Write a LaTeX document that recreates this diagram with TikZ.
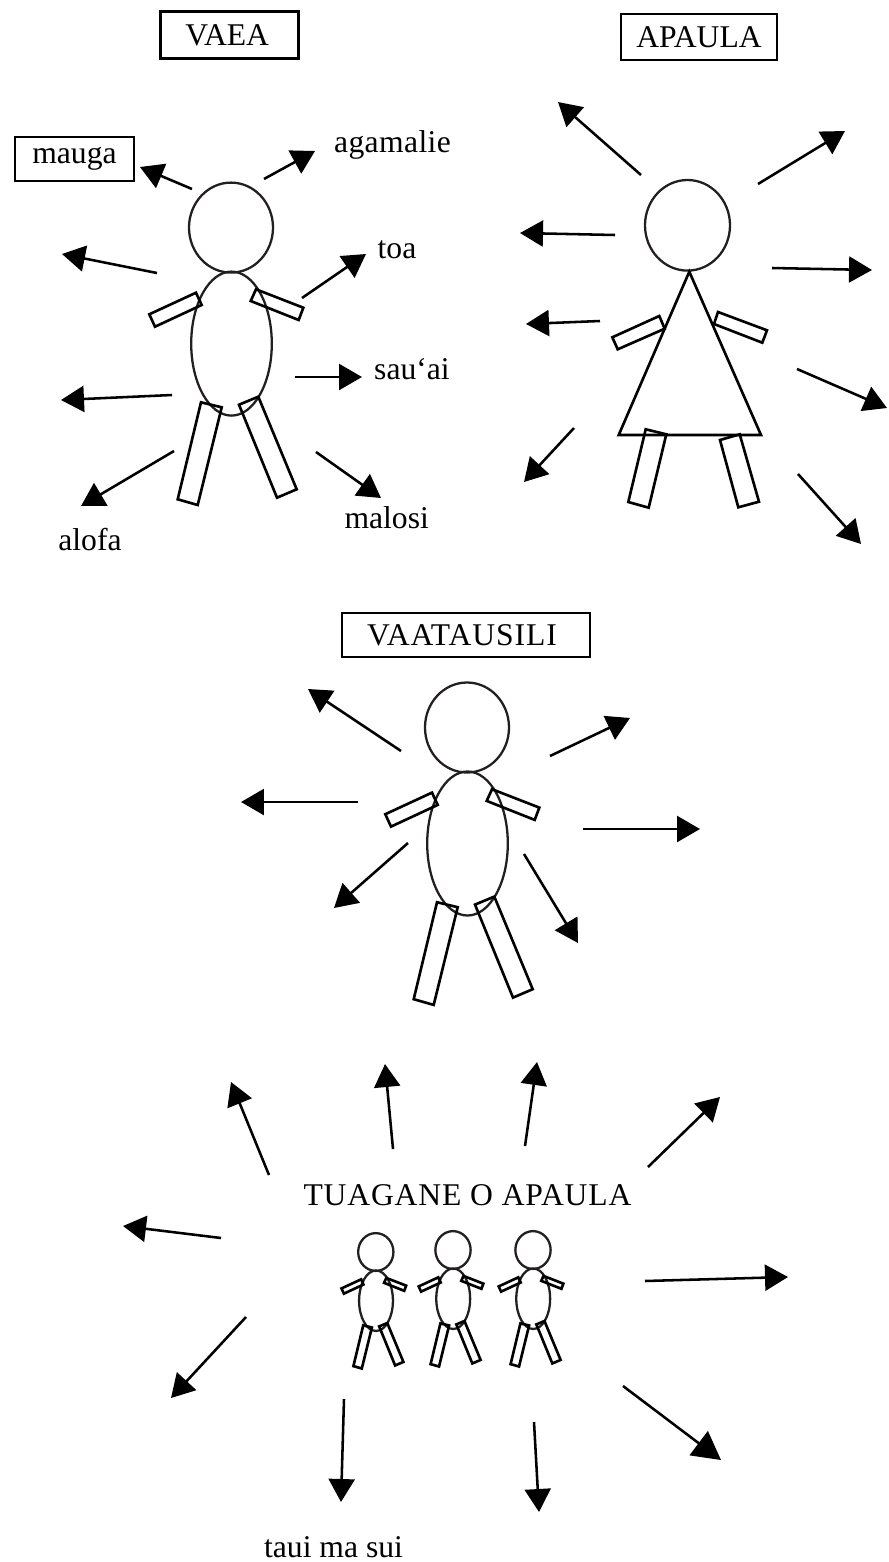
\documentclass[tikz,border=0pt]{standalone}
\usepackage{fontspec}
\setmainfont{Liberation Serif}
\usepackage{xcolor}
\usetikzlibrary{arrows.meta}

\definecolor{ink}{HTML}{231F20}

\tikzset{
  word/.style={font=\fontsize{18}{20}\selectfont, text=black, inner sep=0pt, anchor=base},
  namebox/.style={rectangle, draw=black, line width=1.6pt, inner sep=0pt, font=\fontsize{18}{20}\selectfont},
  pointer/.style={line width=1.45pt, -{Triangle[length=0.46cm,width=0.52cm]}},
  bigpointer/.style={line width=1.45pt, -{Triangle[length=0.56cm,width=0.6cm]}},
  outline/.style={draw=ink, line width=1.3pt},
  limb/.style={draw=black, line width=1.5pt},
  tagata/.pic={
    \draw[outline] (0,0) ellipse [x radius=42, y radius=45];
    \draw[outline] (0.5,116) ellipse [x radius=40.3, y radius=72];
    \draw[limb] (-81.7,86.7) -- (-35,65.1) -- (-29.3,77.4) -- (-76,99.1) -- cycle;
    \draw[limb] (25,61.7) -- (72.3,80.1) -- (67.7,92.4) -- (19.7,73.4) -- cycle;
    \draw[limb] (-30,174.7) -- (-9.3,179.7) -- (-33.3,277.4) -- (-53.3,271.7) -- cycle;
    \draw[limb] (8,177.1) -- (27.3,169.1) -- (65.7,261.7) -- (46,270.1) -- cycle;
  }
}

\begin{document}
\begin{tikzpicture}[x=0.02cm, y=-0.02cm]
\useasboundingbox (0,0) rectangle (889,1562);

% names
\node[namebox, minimum width=2.76cm, minimum height=0.94cm] (vaea) at (229.2,35.3) {VAEA\hspace*{2.3pt}};
\node[namebox, minimum width=3.12cm, minimum height=0.92cm] (apaula) at (699,37) {APAULA};
\node[namebox, minimum width=4.96cm, minimum height=0.88cm] (vaatausili) at (466,635) {\addfontfeature{LetterSpace=3}VAATAUSILI\hspace*{4.5pt}};
\node[namebox, minimum width=2.38cm, minimum height=0.88cm] (mauga) at (74.5,159) {mauga};
\node[word] (agamalie) at (392.5,152) {\addfontfeature{LetterSpace=1.2}agamalie};
\node[word] (toa) at (397,258) {toa};
\node[word] (sauai) at (412,379) {sau‘ai};
\node[word] (malosi) at (386.7,528) {malosi};
\node[word] (alofa) at (90,550) {alofa};
\node[word] (tuagane) at (467.5,1205) {\addfontfeature{LetterSpace=2.7}TUAGANE O APAULA};
\node[word] (tauimasui) at (333.5,1557) {taui ma sui};

% people
\pic at (231,227.6) {tagata};
\pic at (467,727.5) {tagata};
\pic[scale=0.42] at (375.8,1252) {tagata};
\pic[scale=0.42] at (453,1250) {tagata};
\pic[scale=0.42] at (533,1250) {tagata};

% the woman
\draw[outline] (687.5,225.3) ellipse [x radius=42.5, y radius=45.3];
\draw[limb] (689.3,271.7) -- (761,435) -- (618.7,435) -- cycle;
\draw[limb] (612.3,337.3) -- (659.3,316) -- (664.7,328.7) -- (617.7,349.3) -- cycle;
\draw[limb] (718,312) -- (767,330.3) -- (762.3,342.7) -- (714,324) -- cycle;
\draw[limb] (645.7,429.3) -- (666.3,434.3) -- (648.7,507.7) -- (628.3,502) -- cycle;
\draw[limb] (720,440) -- (739.7,434.3) -- (759,501.7) -- (738.3,507.3) -- cycle;

% arrows of vaea
\coordinate (v1) at (192,189); \coordinate (v1t) at (140,167); \draw[pointer] (v1) -- (v1t);
\coordinate (v2) at (264,179); \coordinate (v2t) at (315,151); \draw[pointer] (v2) -- (v2t);
\coordinate (v3) at (302,298); \coordinate (v3t) at (366,254); \draw[pointer] (v3) -- (v3t);
\coordinate (v4) at (157,273); \coordinate (v4t) at (62,254); \draw[pointer] (v4) -- (v4t);
\coordinate (v5) at (172,395); \coordinate (v5t) at (61,400); \draw[pointer] (v5) -- (v5t);
\coordinate (v6) at (295,377); \coordinate (v6t) at (362,377); \draw[pointer] (v6) -- (v6t);
\coordinate (v7) at (174,451); \coordinate (v7t) at (81,506); \draw[pointer] (v7) -- (v7t);
\coordinate (v8) at (316,452); \coordinate (v8t) at (381,498); \draw[pointer] (v8) -- (v8t);

% arrows of apaula
\coordinate (a1) at (641,175); \coordinate (a1t) at (558,102); \draw[pointer] (a1) -- (a1t);
\coordinate (a2) at (758,184); \coordinate (a2t) at (845,131); \draw[pointer] (a2) -- (a2t);
\coordinate (a3) at (615,235); \coordinate (a3t) at (520,233); \draw[pointer] (a3) -- (a3t);
\coordinate (a4) at (772,268); \coordinate (a4t) at (872,270); \draw[pointer] (a4) -- (a4t);
\coordinate (a5) at (600,321); \coordinate (a5t) at (526,324); \draw[pointer] (a5) -- (a5t);
\coordinate (a6) at (797,369); \coordinate (a6t) at (887,408); \draw[pointer] (a6) -- (a6t);
\coordinate (a7) at (574,428); \coordinate (a7t) at (524,482); \draw[pointer] (a7) -- (a7t);
\coordinate (a8) at (798,474); \coordinate (a8t) at (861,544); \draw[pointer] (a8) -- (a8t);

% arrows of vaatausili
\coordinate (s1) at (401,751); \coordinate (s1t) at (308,689); \draw[pointer] (s1) -- (s1t);
\coordinate (s2) at (550,756); \coordinate (s2t) at (630,718); \draw[pointer] (s2) -- (s2t);
\coordinate (s3) at (358,802); \coordinate (s3t) at (241,802); \draw[pointer] (s3) -- (s3t);
\coordinate (s4) at (583,829); \coordinate (s4t) at (700,829); \draw[pointer] (s4) -- (s4t);
\coordinate (s5) at (408,843); \coordinate (s5t) at (334,908); \draw[pointer] (s5) -- (s5t);
\coordinate (s6) at (524,854); \coordinate (s6t) at (578,943); \draw[pointer] (s6) -- (s6t);

% arrows of the brothers
\coordinate (t1) at (269,1175); \coordinate (t1t) at (231,1082); \draw[pointer] (t1) -- (t1t);
\coordinate (t2) at (393,1149); \coordinate (t2t) at (385,1064); \draw[pointer] (t2) -- (t2t);
\coordinate (t3) at (525,1146); \coordinate (t3t) at (537,1062); \draw[pointer] (t3) -- (t3t);
\coordinate (t4) at (648,1167); \coordinate (t4t) at (720,1097); \draw[pointer] (t4) -- (t4t);
\coordinate (t5) at (221,1238); \coordinate (t5t) at (123,1226); \draw[pointer] (t5) -- (t5t);
\coordinate (t6) at (645,1281); \coordinate (t6t) at (788,1277); \draw[pointer] (t6) -- (t6t);
\coordinate (t7) at (246,1317); \coordinate (t7t) at (171,1398); \draw[pointer] (t7) -- (t7t);
\coordinate (t8) at (344,1399); \coordinate (t8t) at (341,1502); \draw[pointer] (t8) -- (t8t);
\coordinate (t9) at (534,1422); \coordinate (t9t) at (539,1512); \draw[pointer] (t9) -- (t9t);
\coordinate (t10) at (623,1386); \coordinate (t10t) at (721,1460); \draw[bigpointer] (t10) -- (t10t);

\end{tikzpicture}
\end{document}
